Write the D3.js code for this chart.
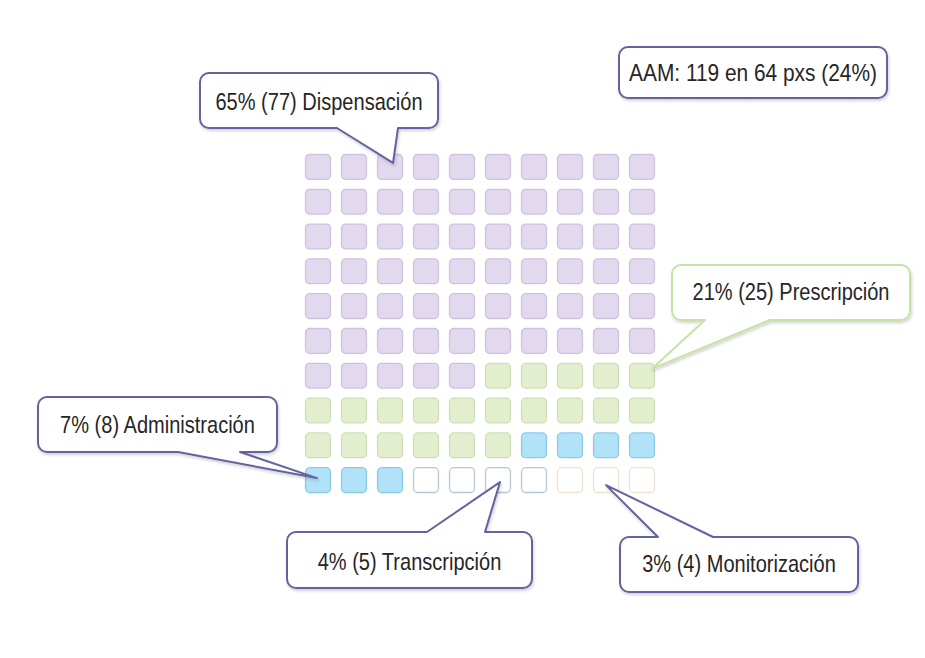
<!DOCTYPE html>
<html>
<head>
<meta charset="utf-8">
<script src="https://cdn.jsdelivr.net/npm/d3@7"></script>
<style>
  body { margin: 0; background: #fff; }
  text { font-family: "Liberation Sans", Arial, sans-serif; fill: #262626; }
</style>
</head>
<body>
<div id="waffle"></div>
<script>
// Waffle 10x10 - errores de medicacion por etapa

// data
const categories = ["Dispensación", "Prescripción", "Administración", "Transcripción", "Monitorización"];
const percents = [65, 21, 7, 4, 3];      // una celda = 1%
const counts = [77, 25, 8, 5, 4];         // numero entre parentesis
const tipCells = [2, 69, 90, 95, 98];     // celda a la que apunta cada globo
const summary = "AAM: 119 en 64 pxs (24%)";

const fills = ["#e2d9ee", "#e3eecf", "#b2e2f7", "#ffffff", "#ffffff"];
const strokes = ["#cdc1df", "#cde0b3", "#8ccbe8", "#b7c7d4", "#f1e3cd"];

const width = 925, height = 658;
const narrow = 0.835; // letra condensada

const svg = d3.select("#waffle")
    .append("svg")
    .attr("width", width)
    .attr("height", height);

const defs = svg.append("defs");
const shadow = defs.append("filter").attr("id", "shadow")
    .attr("x", "-10%").attr("y", "-10%").attr("width", "130%").attr("height", "140%");
shadow.append("feDropShadow")
    .attr("dx", 1).attr("dy", 2).attr("stdDeviation", 1.5)
    .attr("flood-color", "#000").attr("flood-opacity", 0.18);

// one entry per cell, row-major from top-left
const cells = [];
percents.forEach(function(p, i) {
  for (let k = 0; k < p; k++) cells.push({cat: i});
});
cells.forEach(function(d, i) { d.col = i % 10; d.row = Math.floor(i / 10); });

const x = d3.scaleBand()
  .domain(d3.range(10))
  .range([300, 660])
  .paddingInner(0.28)
  .paddingOuter(0.14);

const y = d3.scaleBand()
  .domain(d3.range(10))
  .range([149.5, 497.5])
  .paddingInner(0.26)
  .paddingOuter(0.13);

svg.append("g")
  .selectAll("rect")
  .data(cells)
  .join("rect")
    .attr("x", d => x(d.col) + 0.5)
    .attr("y", d => y(d.row) + 0.5)
    .attr("width", x.bandwidth() - 1)
    .attr("height", y.bandwidth() - 1)
    .attr("rx", 4)
    .attr("ry", 4)
    .style("fill", d => fills[d.cat])
    .style("stroke", d => strokes[d.cat])
    .style("stroke-width", 1.3);

// globos (posiciones de maquetacion)
const boxes = [
  {x: 200, y: 73,  w: 238, h: 55, side: "bottom", b: [337, 398], dx: 3,  dy: -4, base: 9.5, color: "#63639f"},
  {x: 672, y: 265, w: 238, h: 55, side: "bottom", b: [705, 770], dx: 10, dy: -7, base: 7,   color: "#c6e2a6"},
  {x: 38,  y: 397, w: 239, h: 55, side: "bottom", b: [178, 240], dx: -1, dy: -2, base: 8.5, color: "#63639f"},
  {x: 287, y: 532, w: 245, h: 56, side: "top",    b: [427, 485], dx: 2,  dy: 2,  base: 10,  color: "#63639f"},
  {x: 620, y: 537, w: 238, h: 55, side: "top",    b: [658, 713], dx: 0,  dy: 5,  base: 7.5, color: "#63639f"}
];

function callout(bx, tip) {
  const r = 9, x0 = bx.x, y0 = bx.y, x1 = bx.x + bx.w, y1 = bx.y + bx.h;
  const p = d3.path();
  p.moveTo(x0 + r, y0);
  if (bx.side === "top") {
    p.lineTo(bx.b[0], y0); p.lineTo(tip[0], tip[1]); p.lineTo(bx.b[1], y0);
  }
  p.lineTo(x1 - r, y0);
  p.arcTo(x1, y0, x1, y0 + r, r);
  p.lineTo(x1, y1 - r);
  p.arcTo(x1, y1, x1 - r, y1, r);
  if (bx.side === "bottom") {
    p.lineTo(bx.b[1], y1); p.lineTo(tip[0], tip[1]); p.lineTo(bx.b[0], y1);
  }
  p.lineTo(x0 + r, y1);
  p.arcTo(x0, y1, x0, y1 - r, r);
  p.lineTo(x0, y0 + r);
  p.arcTo(x0, y0, x0 + r, y0, r);
  p.closePath();
  return p.toString();
}

const labels = svg.append("g");
boxes.forEach(function(bx, i) {
  const c = tipCells[i];
  const tip = [x(c % 10) + x.bandwidth() / 2 + bx.dx, y(Math.floor(c / 10)) + y.bandwidth() / 2 + bx.dy];
  labels.append("path")
    .attr("d", callout(bx, tip))
    .attr("filter", "url(#shadow)")
    .style("fill", "#fff")
    .style("stroke", bx.color)
    .style("stroke-width", 2)
    .style("stroke-linejoin", "round");
  labels.append("text")
    .attr("transform", `translate(${bx.x + bx.w / 2}, ${bx.y + bx.h / 2 + bx.base}) scale(${narrow}, 1)`)
    .attr("text-anchor", "middle")
    .style("font-size", "24px")
    .text(percents[i] + "% (" + counts[i] + ") " + categories[i]);
});

// resumen arriba a la derecha
labels.append("rect")
  .attr("x", 619).attr("y", 47)
  .attr("width", 268).attr("height", 51)
  .attr("rx", 9).attr("ry", 9)
  .attr("filter", "url(#shadow)")
  .style("fill", "#fff")
  .style("stroke", "#63639f")
  .style("stroke-width", 2);

labels.append("text")
  .attr("transform", `translate(753, 81) scale(0.87, 1)`)
  .attr("text-anchor", "middle")
  .style("font-size", "24px")
  .text(summary);
</script>
</body>
</html>
